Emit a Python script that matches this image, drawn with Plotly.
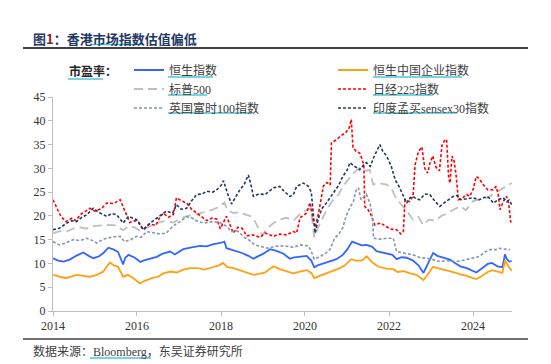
import pandas as pd
import plotly.graph_objects as go

# ---------------- data (decimal years, P/E) ----------------
hsi_t = [2014.0, 2014.12, 2014.25, 2014.4, 2014.55, 2014.72, 2014.85, 2014.96, 2015.1, 2015.2, 2015.32, 2015.45,
         2015.55, 2015.62, 2015.67, 2015.72, 2015.8, 2015.95, 2016.08, 2016.15, 2016.3, 2016.47, 2016.6, 2016.79,
         2016.9, 2017.1, 2017.3, 2017.5, 2017.66, 2017.8, 2017.98, 2018.08, 2018.13, 2018.25, 2018.4, 2018.5,
         2018.65, 2018.77, 2018.9, 2019.0, 2019.17, 2019.3, 2019.48, 2019.64, 2019.75, 2019.88, 2020.04, 2020.15,
         2020.22, 2020.3, 2020.45, 2020.6, 2020.75, 2020.9, 2021.0, 2021.12, 2021.2, 2021.35, 2021.47, 2021.6,
         2021.7, 2021.85, 2021.94, 2022.08, 2022.18, 2022.3, 2022.42, 2022.57, 2022.7, 2022.82, 2022.9, 2023.05,
         2023.15, 2023.3, 2023.45, 2023.55, 2023.7, 2023.85, 2024.0, 2024.08, 2024.2, 2024.35, 2024.45, 2024.58,
         2024.7, 2024.76, 2024.8, 2024.86, 2024.92]
hsi_pe = [11.1, 10.6, 10.4, 10.8, 11.6, 12.3, 11.6, 11.1, 11.5, 12.2, 13.3, 12.9,
          12.4, 11.0, 9.8, 11.2, 11.8, 11.2, 10.3, 10.6, 11.0, 11.4, 12.0, 12.5,
          11.9, 13.0, 13.4, 13.7, 13.6, 14.0, 14.3, 14.6, 13.2, 12.9, 12.6, 12.2,
          11.6, 11.0, 11.6, 12.0, 13.0, 12.7, 12.1, 11.0, 11.3, 11.5, 11.6, 10.6,
          9.2, 9.6, 10.0, 10.4, 10.9, 11.8, 12.9, 14.6, 14.3, 13.8, 13.9, 13.5,
          12.6, 12.3, 12.2, 11.8, 10.9, 11.3, 11.2, 10.6, 9.6, 8.0, 9.5, 12.2,
          11.6, 11.2, 10.8, 10.2, 9.4, 9.0, 8.3, 8.1, 8.9, 9.9, 10.1, 9.4,
          9.2, 11.9, 11.0, 10.4, 10.5]

hscei_t = [2014.0, 2014.15, 2014.3, 2014.45, 2014.56, 2014.72, 2014.88, 2015.05, 2015.2, 2015.3, 2015.36, 2015.45,
           2015.55, 2015.67, 2015.78, 2015.9, 2016.07, 2016.2, 2016.35, 2016.5, 2016.63, 2016.8, 2016.95, 2017.1,
           2017.26, 2017.45, 2017.6, 2017.8, 2017.95, 2018.05, 2018.15, 2018.3, 2018.45, 2018.6, 2018.77, 2018.9,
           2019.05, 2019.25, 2019.4, 2019.55, 2019.72, 2019.88, 2020.04, 2020.15, 2020.22, 2020.35, 2020.5, 2020.65,
           2020.83, 2020.95, 2021.1, 2021.2, 2021.35, 2021.47, 2021.6, 2021.75, 2021.94, 2022.1, 2022.2, 2022.35,
           2022.5, 2022.65, 2022.82, 2022.9, 2023.05, 2023.2, 2023.35, 2023.53, 2023.7, 2023.85, 2024.0, 2024.08,
           2024.2, 2024.35, 2024.45, 2024.6, 2024.7, 2024.76, 2024.82, 2024.88, 2024.92]
hscei_pe = [7.6, 7.2, 6.9, 7.3, 7.6, 7.4, 7.2, 7.6, 8.3, 9.6, 10.2, 9.6,
            9.3, 7.2, 7.6, 7.0, 5.8, 6.4, 6.9, 7.2, 7.9, 8.3, 8.1, 8.7,
            9.0, 9.0, 8.7, 9.2, 9.6, 10.1, 9.2, 9.0, 8.6, 8.1, 7.6, 7.8,
            8.1, 9.4, 8.8, 8.4, 7.9, 8.3, 8.6, 8.0, 6.9, 7.4, 7.9, 8.3,
            9.0, 9.6, 10.9, 10.6, 10.6, 11.5, 10.2, 9.3, 8.9, 8.8, 8.2, 8.4,
            7.9, 7.6, 6.5, 7.4, 9.3, 8.9, 8.6, 8.2, 7.7, 7.4, 6.9, 6.7,
            7.3, 8.2, 8.6, 8.2, 8.0, 10.6, 9.6, 8.9, 8.5]

spx_t = [2014.0, 2014.15, 2014.3, 2014.5, 2014.65, 2014.8, 2014.9, 2015.1, 2015.3, 2015.5, 2015.67, 2015.8,
         2015.95, 2016.1, 2016.25, 2016.47, 2016.65, 2016.87, 2017.0, 2017.2, 2017.4, 2017.6, 2017.8, 2017.95,
         2018.08, 2018.15, 2018.3, 2018.45, 2018.6, 2018.75, 2018.85, 2018.98, 2019.1, 2019.25, 2019.4, 2019.56,
         2019.72, 2019.88, 2020.04, 2020.14, 2020.22, 2020.3, 2020.44, 2020.55, 2020.67, 2020.8, 2020.9, 2021.05,
         2021.15, 2021.3, 2021.45, 2021.54, 2021.62, 2021.75, 2021.94, 2022.05, 2022.15, 2022.26, 2022.4, 2022.57,
         2022.7, 2022.81, 2022.95, 2023.1, 2023.25, 2023.4, 2023.55, 2023.7, 2023.83, 2024.0, 2024.15, 2024.33,
         2024.48, 2024.64, 2024.78, 2024.92]
spx_pe = [16.3, 16.8, 16.6, 17.4, 17.6, 17.3, 17.8, 18.0, 18.1, 18.0, 17.0, 17.8,
          17.6, 16.6, 17.6, 18.5, 18.9, 18.6, 19.3, 20.0, 20.3, 20.8, 21.3, 21.9,
          22.8, 21.2, 20.6, 20.8, 20.2, 19.8, 18.2, 15.9, 17.4, 18.5, 19.2, 19.6,
          19.0, 20.4, 21.3, 21.6, 15.5, 17.3, 19.9, 21.8, 23.4, 24.5, 26.2, 28.0,
          29.0, 30.1, 29.5, 29.7, 26.6, 26.9, 26.6, 25.9, 24.0, 22.7, 21.3, 19.2,
          19.8, 18.1, 19.2, 19.0, 20.0, 20.6, 21.4, 22.0, 21.2, 23.1, 23.4, 23.8,
          24.6, 25.5, 26.2, 26.9]

nky_t = [2014.0, 2014.08, 2014.17, 2014.3, 2014.45, 2014.55, 2014.64, 2014.78, 2014.88, 2015.0, 2015.15, 2015.28,
         2015.45, 2015.6, 2015.68, 2015.75, 2015.83, 2015.95, 2016.05, 2016.15, 2016.3, 2016.45, 2016.55, 2016.63,
         2016.75, 2016.87, 2016.94, 2017.05, 2017.18, 2017.3, 2017.42, 2017.55, 2017.66, 2017.8, 2017.9, 2017.98,
         2018.13, 2018.22, 2018.29, 2018.4, 2018.5, 2018.61, 2018.75, 2018.93, 2019.05, 2019.25, 2019.4, 2019.56,
         2019.72, 2019.8, 2019.88, 2020.04, 2020.12, 2020.2, 2020.24, 2020.32, 2020.44, 2020.52, 2020.6, 2020.63,
         2020.75, 2020.85, 2020.98, 2021.05, 2021.1, 2021.14, 2021.22, 2021.3, 2021.36, 2021.4, 2021.42, 2021.5,
         2021.58, 2021.66, 2021.8, 2021.94, 2022.05, 2022.18, 2022.28, 2022.34, 2022.38, 2022.48, 2022.57, 2022.62,
         2022.7, 2022.78, 2022.85, 2022.92, 2022.97, 2023.04, 2023.12, 2023.2, 2023.26, 2023.32, 2023.37, 2023.42,
         2023.45, 2023.5, 2023.55, 2023.6, 2023.65, 2023.75, 2023.85, 2023.92, 2024.0, 2024.08, 2024.15, 2024.24,
         2024.35, 2024.48, 2024.55, 2024.6, 2024.64, 2024.72, 2024.8, 2024.85, 2024.88, 2024.9]
nky_pe = [23.4, 22.0, 20.2, 18.8, 19.5, 19.0, 20.2, 21.0, 21.6, 21.0, 21.5, 22.7,
          22.6, 23.4, 21.8, 20.5, 18.6, 19.0, 18.6, 17.1, 18.3, 18.0, 19.8, 20.6,
          19.7, 20.3, 23.8, 23.2, 22.7, 21.4, 20.6, 19.6, 19.0, 19.6, 19.3, 17.3,
          19.9, 18.0, 16.4, 17.6, 17.4, 15.8, 16.0, 15.5, 16.4, 15.7, 16.2, 16.0,
          16.7, 16.4, 19.6, 20.6, 22.8, 19.0, 17.6, 20.5, 26.3, 27.0, 26.5, 35.4,
          36.0, 36.8, 37.6, 38.5, 40.3, 34.4, 33.5, 33.2, 31.9, 30.5, 22.0, 21.3,
          20.0, 18.1, 18.5, 17.7, 17.2, 17.1, 16.2, 16.7, 23.4, 23.0, 24.1, 30.8,
          33.5, 34.5, 30.0, 29.0, 31.0, 32.6, 30.2, 29.5, 34.8, 35.8, 36.1, 28.0,
          26.9, 32.6, 31.5, 28.3, 23.4, 23.8, 24.5, 24.1, 25.5, 28.3, 27.8, 26.6,
          25.5, 25.5, 26.2, 24.5, 21.3, 23.0, 24.1, 22.5, 19.2, 18.6]

ftse_t = [2014.0, 2014.15, 2014.3, 2014.48, 2014.65, 2014.8, 2014.95, 2015.04, 2015.18, 2015.28, 2015.45, 2015.6,
          2015.7, 2015.85, 2015.99, 2016.1, 2016.23, 2016.4, 2016.55, 2016.7, 2016.85, 2017.02, 2017.18, 2017.3,
          2017.45, 2017.6, 2017.8, 2017.98, 2018.13, 2018.25, 2018.4, 2018.55, 2018.67, 2018.8, 2018.95, 2019.1,
          2019.3, 2019.5, 2019.72, 2019.9, 2020.08, 2020.15, 2020.22, 2020.35, 2020.5, 2020.6, 2020.7, 2020.83,
          2020.9, 2020.98, 2021.08, 2021.15, 2021.22, 2021.27, 2021.33, 2021.46, 2021.55, 2021.6, 2021.63, 2021.8,
          2021.95, 2022.1, 2022.18, 2022.3, 2022.45, 2022.57, 2022.75, 2022.9, 2023.05, 2023.21, 2023.4, 2023.53,
          2023.7, 2023.84, 2024.0, 2024.16, 2024.28, 2024.4, 2024.55, 2024.64, 2024.78, 2024.88]
ftse_pe = [14.6, 13.9, 14.3, 15.0, 14.8, 15.3, 14.8, 14.3, 15.0, 15.3, 15.6, 15.7,
           14.6, 15.0, 15.7, 15.5, 16.7, 16.4, 16.2, 16.4, 17.8, 18.8, 19.8, 19.6,
           18.8, 18.5, 18.8, 18.6, 17.8, 16.7, 16.8, 15.5, 14.9, 13.9, 13.5, 13.2,
           13.6, 13.7, 13.4, 13.9, 13.7, 12.5, 10.9, 11.4, 12.2, 13.0, 15.2, 16.5,
           17.5, 20.0, 22.0, 23.0, 25.5, 25.9, 23.4, 24.5, 22.5, 19.8, 15.3, 15.1,
           15.3, 15.3, 12.5, 12.3, 12.0, 11.8, 11.2, 11.1, 10.8, 10.4, 10.6, 10.4,
           10.5, 10.8, 11.1, 11.5, 12.4, 12.9, 12.9, 13.2, 13.0, 12.9]

sensex_t = [2014.0, 2014.15, 2014.33, 2014.45, 2014.56, 2014.7, 2014.8, 2014.96, 2015.05, 2015.12, 2015.28, 2015.4,
            2015.52, 2015.67, 2015.8, 2015.99, 2016.15, 2016.3, 2016.47, 2016.6, 2016.7, 2016.85, 2016.94, 2017.05,
            2017.18, 2017.3, 2017.42, 2017.55, 2017.66, 2017.8, 2017.9, 2018.0, 2018.06, 2018.15, 2018.25, 2018.35,
            2018.45, 2018.55, 2018.65, 2018.72, 2018.77, 2018.9, 2019.05, 2019.25, 2019.4, 2019.5, 2019.64, 2019.72,
            2019.8, 2019.96, 2020.08, 2020.15, 2020.2, 2020.24, 2020.32, 2020.4, 2020.5, 2020.67, 2020.8, 2020.9,
            2021.0, 2021.07, 2021.15, 2021.3, 2021.4, 2021.46, 2021.55, 2021.65, 2021.78, 2021.85, 2021.94, 2022.05,
            2022.15, 2022.22, 2022.3, 2022.35, 2022.42, 2022.5, 2022.57, 2022.65, 2022.73, 2022.85, 2022.97, 2023.1,
            2023.21, 2023.35, 2023.53, 2023.62, 2023.7, 2023.85, 2024.0, 2024.15, 2024.33, 2024.42, 2024.48, 2024.6,
            2024.72, 2024.8, 2024.86, 2024.92]
sensex_pe = [17.1, 17.4, 18.5, 19.0, 18.8, 19.8, 20.2, 21.6, 21.0, 20.6, 19.9, 20.5,
             20.2, 18.5, 19.9, 19.2, 17.1, 18.4, 19.5, 20.3, 21.0, 20.6, 22.4, 21.4,
             21.6, 23.2, 24.5, 24.6, 25.2, 25.0, 25.5, 26.4, 27.4, 24.8, 22.5, 24.0,
             25.5, 26.6, 28.6, 26.3, 24.1, 24.6, 24.5, 25.9, 26.2, 25.2, 24.1, 24.4,
             26.2, 26.9, 26.2, 25.0, 20.5, 16.4, 19.5, 21.5, 22.6, 24.8, 26.4, 28.3,
             29.6, 31.2, 30.6, 29.7, 30.8, 31.2, 30.4, 32.6, 35.0, 33.6, 32.6, 30.5,
             27.5, 26.5, 25.0, 24.0, 22.7, 23.8, 24.1, 23.6, 23.4, 24.6, 24.5, 23.0,
             22.0, 23.0, 24.1, 24.3, 23.4, 23.6, 23.8, 23.4, 24.1, 23.5, 22.7, 23.4,
             23.8, 23.0, 23.3, 22.4]

series_names = ["恒生指数", "恒生中国企业指数", "标普500", "日经225指数", "英国富时100指数", "印度孟买sensex30指数"]
x_ticks = ["2014", "2016", "2018", "2020", "2022", "2024"]
y_ticks = [0, 5, 10, 15, 20, 25, 30, 35, 40, 45]


def to_dates(ts):
    out = []
    for t in ts:
        y = int(t)
        start = pd.Timestamp(year=y, month=1, day=1)
        out.append(start + pd.Timedelta(days=(t - y) * 365.25))
    return out


W, H = 551, 364
ML, MR, MT, MB = 53, 39, 97, 53
PW, PH = W - ML - MR, H - MT - MB


def px(x):
    return (x - ML) / PW


def py(y):
    return (H - MB - y) / PH


styles = [
    dict(color="#3366FF", width=1.8, dash="solid"),
    dict(color="#FFA010", width=1.8, dash="solid"),
    dict(color="#BFBFBF", width=1.8, dash="9px,5px"),
    dict(color="#FF0000", width=1.6, dash="3px,2px"),
    dict(color="#8497B0", width=1.6, dash="3px,2px"),
    dict(color="#1F3864", width=1.6, dash="3px,2px"),
]
data = [(hsi_t, hsi_pe), (hscei_t, hscei_pe), (spx_t, spx_pe), (nky_t, nky_pe), (ftse_t, ftse_pe),
        (sensex_t, sensex_pe)]

fig = go.Figure()
for i in range(6):
    t, v = data[i]
    fig.add_trace(go.Scatter(x=to_dates(t), y=v, mode="lines", name=series_names[i],
                             line=styles[i], legendrank=i + 1))

serif = "Liberation Serif, Noto Sans CJK SC, serif"

fig.update_layout(
    width=W, height=H,
    margin=dict(l=ML, r=MR, t=MT, b=MB, autoexpand=False),
    paper_bgcolor="white", plot_bgcolor="white",
    font=dict(family=serif, size=12, color="#404040"),
    showlegend=True,
    legend=dict(orientation="h", xref="container", yref="container",
                x=129 / W, y=1 - 55.5 / H, xanchor="left", yanchor="top",
                entrywidth=159, entrywidthmode="pixels", itemwidth=30,
                font=dict(family=serif, size=12, color="#404040"),
                bgcolor="rgba(0,0,0,0)", tracegroupgap=0, traceorder="normal"),
    xaxis=dict(type="date", range=["2014-01-01", "2024-12-05"],
               tickvals=[f"{y}-01-01" for y in x_ticks], ticktext=x_ticks,
               showline=True, linecolor="#BFBFBF", linewidth=1,
               ticks="outside", ticklen=4, tickcolor="#BFBFBF",
               showgrid=False, zeroline=False,
               tickfont=dict(family=serif, size=12, color="#333333")),
    yaxis=dict(range=[0, 45], tickvals=y_ticks,
               showline=True, linecolor="#BFBFBF", linewidth=1,
               ticks="outside", ticklen=4, tickcolor="#BFBFBF",
               showgrid=False, zeroline=False,
               tickfont=dict(family=serif, size=12, color="#333333")),
)

annotations = [
    dict(text="<b>图<span style='color:#8B2323'>1</span>：香港市场指数估值偏低</b>",
         x=px(31), y=py(38), xref="paper", yref="paper", xanchor="left", yanchor="middle",
         showarrow=False, font=dict(family="Noto Sans CJK SC", size=13, color="#1F3864")),
    dict(text="<b>市盈率：</b>", x=px(67), y=py(70), xref="paper", yref="paper",
         xanchor="left", yanchor="middle", showarrow=False,
         font=dict(family="Noto Sans CJK SC", size=12, color="#262626")),
    dict(text="数据来源：Bloomberg，东吴证券研究所", x=px(31), y=py(351), xref="paper", yref="paper",
         xanchor="left", yanchor="middle", showarrow=False,
         font=dict(family=serif, size=12, color="#404040")),
]

shapes = [
    dict(type="line", xref="paper", yref="paper", x0=px(23), x1=px(528), y0=py(48), y1=py(48),
         line=dict(color="#404040", width=2)),
    dict(type="line", xref="paper", yref="paper", x0=px(23), x1=px(528), y0=py(339), y1=py(339),
         line=dict(color="#404040", width=1.5)),
]
# cyan proofing underlines seen in the original document
underlines = [(92, 143, 44.5), (68, 103, 79), (168, 213, 77), (168, 207, 95), (168, 252, 113),
              (373, 462, 77), (373, 433, 95), (373, 457, 113), (90, 151, 358)]
for x0, x1, yy in underlines:
    shapes.append(dict(type="line", xref="paper", yref="paper", x0=px(x0), x1=px(x1), y0=py(yy), y1=py(yy),
                       line=dict(color="#4BC6D6", width=1.5)))

fig.update_layout(annotations=annotations, shapes=shapes)
fig.write_html("out.html", config={"displayModeBar": False},
               post_script="document.body.style.margin='0';document.body.style.padding='0';")
